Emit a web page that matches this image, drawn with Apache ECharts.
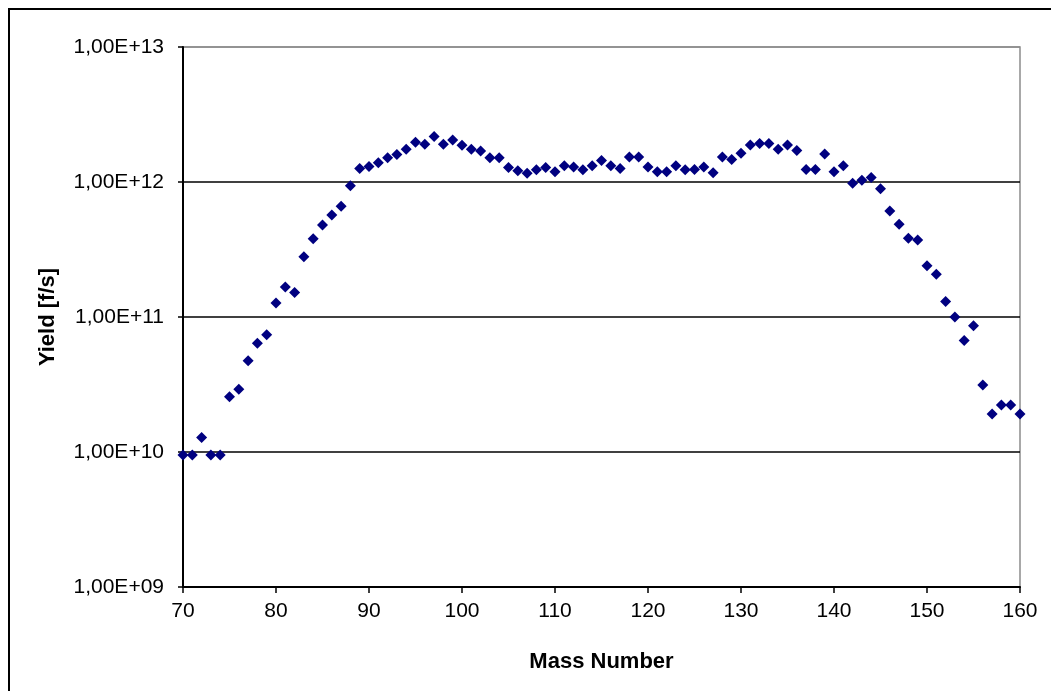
<!DOCTYPE html>
<html>
<head>
<meta charset="utf-8">
<script src="https://cdn.jsdelivr.net/npm/echarts@6/dist/echarts.min.js"></script>
<style>
html,body{margin:0;padding:0;background:#fff;}
#chart{width:1051px;height:691px;}
</style>
</head>
<body>
<div id="chart"></div>
<script>
const massNumbers = [70,71,72,73,74,75,76,77,78,79,80,81,82,83,84,85,86,87,88,89,90,91,92,93,94,95,96,97,98,99,100,101,102,103,104,105,106,107,108,109,110,111,112,113,114,115,116,117,118,119,120,121,122,123,124,125,126,127,128,129,130,131,132,133,134,135,136,137,138,139,140,141,142,143,144,145,146,147,148,149,150,151,152,153,154,155,156,157,158,159,160];
const yields = [9.5e9,9.5e9,1.28e10,9.5e9,9.5e9,2.57e10,2.91e10,4.74e10,6.4e10,7.4e10,1.27e11,1.67e11,1.52e11,2.8e11,3.8e11,4.8e11,5.7e11,6.6e11,9.4e11,1.26e12,1.30e12,1.39e12,1.51e12,1.60e12,1.75e12,1.97e12,1.90e12,2.17e12,1.90e12,2.05e12,1.87e12,1.75e12,1.70e12,1.51e12,1.51e12,1.28e12,1.21e12,1.16e12,1.23e12,1.28e12,1.19e12,1.32e12,1.29e12,1.23e12,1.32e12,1.44e12,1.32e12,1.26e12,1.53e12,1.53e12,1.29e12,1.19e12,1.19e12,1.32e12,1.23e12,1.24e12,1.29e12,1.17e12,1.53e12,1.47e12,1.63e12,1.88e12,1.93e12,1.93e12,1.75e12,1.88e12,1.71e12,1.24e12,1.24e12,1.61e12,1.19e12,1.32e12,9.8e11,1.03e12,1.08e12,8.9e11,6.1e11,4.86e11,3.83e11,3.72e11,2.4e11,2.07e11,1.30e11,1.0e11,6.7e10,8.6e10,3.13e10,1.91e10,2.23e10,2.23e10,1.91e10];
const xTickLabels = ['70','80','90','100','110','120','130','140','150','160'];
const yTickLabels = {1e9:'1,00E+09',1e10:'1,00E+10',1e11:'1,00E+11',1e12:'1,00E+12',1e13:'1,00E+13'};
const xTitle = 'Mass Number';
const yTitle = 'Yield [f/s]';

const chart = echarts.init(document.getElementById('chart'), null, {renderer:'canvas'});
const font = '"Liberation Sans", Arial, sans-serif';
chart.setOption({
  animation:false,
  backgroundColor:'#fff',
  graphic:[{type:'rect', shape:{x:9,y:9,width:1100,height:800}, style:{fill:'none', stroke:'#000', lineWidth:2}, silent:true}],
  grid:{left:183,right:31,top:47,bottom:104,show:true,borderColor:'#8c8c8c',borderWidth:1.5},
  xAxis:{
    type:'value', min:70, max:160, interval:10,
    name:xTitle, nameLocation:'middle', nameGap:64,
    nameTextStyle:{fontFamily:font,fontSize:22,fontWeight:'bold',color:'#000'},
    axisLine:{show:true,onZero:false,lineStyle:{color:'#000',width:2}},
    axisTick:{show:true,length:6,lineStyle:{color:'#000',width:1.5}},
    axisLabel:{margin:14,fontFamily:font,fontSize:21,color:'#000',formatter:(v)=>xTickLabels[Math.round((v-70)/10)]},
    splitLine:{show:false}
  },
  yAxis:{
    type:'log', logBase:10, min:1e9, max:1e13,
    name:yTitle, nameLocation:'middle', nameGap:124, nameRotate:90,
    nameTextStyle:{fontFamily:font,fontSize:22,fontWeight:'bold',color:'#000'},
    axisLine:{show:true,lineStyle:{color:'#000',width:2}},
    axisTick:{show:true,length:5,lineStyle:{color:'#000',width:1.5}},
    axisLabel:{margin:19,fontFamily:font,fontSize:21,color:'#000',formatter:(v)=>yTickLabels[Math.round(v)] || ''},
    splitLine:{show:true,lineStyle:{color:['#8c8c8c','#000','#000','#000','#000'],width:1.5}}
  },
  series:[{
    type:'scatter',
    data:massNumbers.map((m,i)=>[m,yields[i]]),
    symbol:'diamond', symbolSize:[11,11],
    itemStyle:{color:'#000080',opacity:1}
  }]
});
</script>
</body>
</html>
